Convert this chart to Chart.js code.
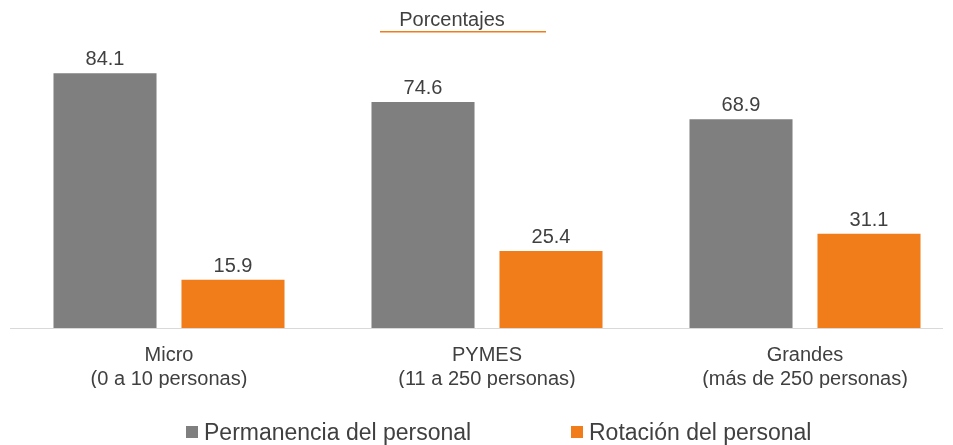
<!DOCTYPE html>
<html>
<head>
<meta charset="utf-8">
<script src="https://cdn.jsdelivr.net/npm/chart.js@4"></script>
<style>
  html, body { margin: 0; padding: 0; background: #fff; overflow: hidden; }
  #wrap { position: absolute; left: 0; top: 0; width: 975px; height: 445px; }
</style>
</head>
<body>
<div id="wrap"><canvas id="chart"></canvas></div>
<script>
// values
const categories = [
  ['Micro', '(0 a 10 personas)'],
  ['PYMES', '(11 a 250 personas)'],
  ['Grandes', '(más de 250 personas)']
];
const permanencia = [84.1, 74.6, 68.9];
const rotacion = [15.9, 25.4, 31.1];
const seriesNames = ['Permanencia del personal', 'Rotación del personal'];
const chartTitle = 'Porcentajes';

const GREY = '#7f7f7f';
const ORANGE = '#f07d1a';
const TEXT = '#404040';
const FONT = '"Liberation Sans", Arial, sans-serif';

// value labels on top of every bar
const valueLabels = {
  id: 'valueLabels',
  afterDatasetsDraw(chart) {
    const ctx = chart.ctx;
    ctx.save();
    ctx.font = '20px ' + FONT;
    ctx.fillStyle = TEXT;
    ctx.textAlign = 'center';
    ctx.textBaseline = 'alphabetic';
    chart.data.datasets.forEach((ds, i) => {
      chart.getDatasetMeta(i).data.forEach((bar, j) => {
        ctx.fillText(ds.data[j].toFixed(1), bar.x, bar.y - 8);
      });
    });
    ctx.restore();
  }
};

// thin baseline under the bars
const baseLine = {
  id: 'baseLine',
  beforeDatasetsDraw(chart) {
    const ctx = chart.ctx;
    const y = Math.round(chart.chartArea.bottom) + 0.5;
    ctx.save();
    ctx.strokeStyle = '#d9d9d9';
    ctx.lineWidth = 1;
    ctx.beginPath();
    ctx.moveTo(10, y);
    ctx.lineTo(943, y);
    ctx.stroke();
    ctx.restore();
  }
};

// small title with an orange rule under it
const topTitle = {
  id: 'topTitle',
  afterDraw(chart) {
    const ctx = chart.ctx;
    ctx.save();
    ctx.font = '20px ' + FONT;
    ctx.fillStyle = TEXT;
    ctx.textAlign = 'center';
    ctx.textBaseline = 'alphabetic';
    ctx.fillText(chartTitle, 452, 26);
    ctx.fillStyle = ORANGE;
    ctx.fillRect(380, 31, 166, 1.5);
    ctx.restore();
  }
};

// legend drawn from the datasets
const bottomLegend = {
  id: 'bottomLegend',
  afterDraw(chart) {
    const ctx = chart.ctx;
    const xs = [186, 571];
    ctx.save();
    ctx.font = '23px ' + FONT;
    ctx.textAlign = 'left';
    ctx.textBaseline = 'alphabetic';
    chart.data.datasets.forEach((ds, i) => {
      ctx.fillStyle = ds.backgroundColor;
      ctx.fillRect(xs[i], 426, 12, 12);
      ctx.fillStyle = TEXT;
      ctx.fillText(ds.label, xs[i] + 18, 440);
    });
    ctx.restore();
  }
};

const ctx = document.getElementById('chart').getContext('2d');
new Chart(ctx, {
  type: 'bar',
  data: {
    labels: categories,
    datasets: [{
      label: seriesNames[0],
      data: permanencia,
      backgroundColor: GREY,
      categoryPercentage: 0.805,
      barPercentage: 0.805
    }, {
      label: seriesNames[1],
      data: rotacion,
      backgroundColor: ORANGE,
      categoryPercentage: 0.805,
      barPercentage: 0.805
    }]
  },
  options: {
    responsive: true,
    maintainAspectRatio: false,
    animation: false,
    layout: {
      padding: { top: 25, left: 10, right: 11, bottom: 57 }
    },
    plugins: {
      legend: { display: false },
      title: { display: false },
      tooltip: { enabled: false }
    },
    scales: {
      x: {
        grid: { display: false, drawTicks: false },
        border: { display: false },
        ticks: {
          color: TEXT,
          padding: 15,
          font: { family: FONT, size: 20, lineHeight: 1.2 }
        },
        afterFit: (scale) => { scale.height = 60; }
      },
      y: {
        display: false,
        min: 0,
        max: 100
      }
    }
  },
  plugins: [valueLabels, baseLine, topTitle, bottomLegend]
});
</script>
</body>
</html>
